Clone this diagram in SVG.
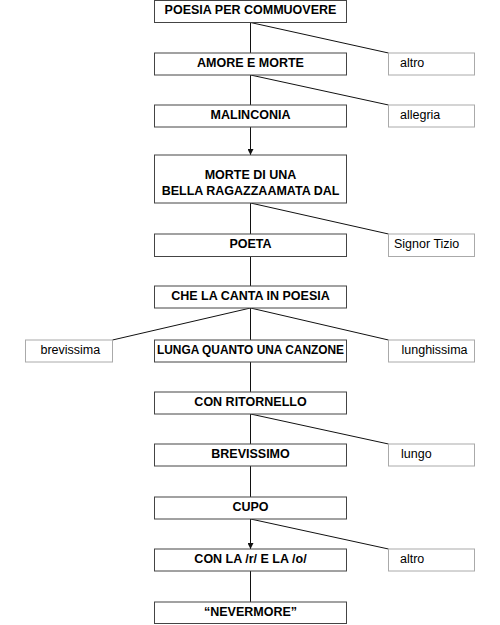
<svg xmlns="http://www.w3.org/2000/svg" width="500" height="625" viewBox="0 0 500 625">
<style>
.m{fill:#fff;stroke:#444;stroke-width:1}
.s{fill:#fff;stroke:#aaa;stroke-width:1}
.mt{font-family:"Liberation Sans",Arial,sans-serif;font-weight:bold;font-size:12.5px;fill:#000;text-anchor:middle}
.st{font-family:"Liberation Sans",Arial,sans-serif;font-size:12.5px;fill:#000}
.c{stroke:#111;stroke-width:1;fill:none}
</style>
<defs>
<marker id="ah" viewBox="0 0 6 6" refX="6" refY="3" markerWidth="6" markerHeight="6" markerUnits="userSpaceOnUse" orient="auto">
<path d="M0,0 L6,3 L0,6 Z" fill="#111"/>
</marker>
</defs>
<rect width="500" height="625" fill="#fff"/>
<g id="connectors">
<line class="c" x1="250.5" y1="22.5" x2="250.5" y2="53"/>
<line class="c" x1="250.5" y1="75" x2="250.5" y2="105"/>
<line class="c" x1="250.5" y1="127" x2="250.5" y2="155" marker-end="url(#ah)"/>
<line class="c" x1="250.5" y1="203" x2="250.5" y2="234"/>
<line class="c" x1="250.5" y1="256.5" x2="250.5" y2="286"/>
<line class="c" x1="250.5" y1="308" x2="250.5" y2="340"/>
<line class="c" x1="250.5" y1="362" x2="250.5" y2="392"/>
<line class="c" x1="250.5" y1="414" x2="250.5" y2="444"/>
<line class="c" x1="250.5" y1="466" x2="250.5" y2="497"/>
<line class="c" x1="250.5" y1="519" x2="250.5" y2="549" marker-end="url(#ah)"/>
<line class="c" x1="250.5" y1="571" x2="250.5" y2="602"/>
<line class="c" x1="250.5" y1="22.5" x2="388.5" y2="53"/>
<line class="c" x1="250.5" y1="75" x2="388.5" y2="105"/>
<line class="c" x1="250.5" y1="203" x2="388.5" y2="234"/>
<line class="c" x1="250.5" y1="308" x2="112.5" y2="340"/>
<line class="c" x1="250.5" y1="308" x2="388.5" y2="340"/>
<line class="c" x1="250.5" y1="414" x2="388.5" y2="444"/>
<line class="c" x1="250.5" y1="519" x2="388.5" y2="549"/>
</g>
<g id="n1"><rect class="m" x="154.5" y="0.5" width="192" height="22"/><text class="mt" x="250.5" y="14">POESIA PER COMMUOVERE</text></g>
<g id="n1b"><rect class="s" x="388.5" y="53" width="86" height="22"/><text class="st" x="400" y="67">altro</text></g>
<g id="n2"><rect class="m" x="154.5" y="53" width="192" height="22"/><text class="mt" x="250.5" y="67">AMORE E MORTE</text></g>
<g id="n2b"><rect class="s" x="388.5" y="105" width="86" height="22"/><text class="st" x="400" y="119">allegria</text></g>
<g id="n3"><rect class="m" x="154.5" y="105" width="192" height="22"/><text class="mt" x="250.5" y="119">MALINCONIA</text></g>
<g id="n4"><rect class="m" x="154.5" y="155" width="192" height="48"/><text class="mt" x="250.5" y="178.5">MORTE DI UNA</text><text class="mt" x="250.5" y="194.5">BELLA RAGAZZAAMATA DAL</text></g>
<g id="n4b"><rect class="s" x="388.5" y="234" width="86" height="22.5"/><text class="st" x="394" y="248">Signor Tizio</text></g>
<g id="n5"><rect class="m" x="154.5" y="234" width="192" height="22.5"/><text class="mt" x="250.5" y="248">POETA</text></g>
<g id="n6"><rect class="m" x="154.5" y="286" width="192" height="22"/><text class="mt" x="250.5" y="300">CHE LA CANTA IN POESIA</text></g>
<g id="n6a"><rect class="s" x="25.5" y="340" width="87" height="22"/><text class="st" x="40.5" y="354">brevissima</text></g>
<g id="n7"><rect class="m" x="154.5" y="340" width="192" height="22"/><text class="mt" x="250.5" y="354" textLength="187" lengthAdjust="spacingAndGlyphs">LUNGA QUANTO UNA CANZONE</text></g>
<g id="n6b"><rect class="s" x="388.5" y="340" width="86" height="22"/><text class="st" x="401.5" y="354">lunghissima</text></g>
<g id="n8"><rect class="m" x="154.5" y="392" width="192" height="22"/><text class="mt" x="250.5" y="406">CON RITORNELLO</text></g>
<g id="n8b"><rect class="s" x="388.5" y="444" width="86" height="22"/><text class="st" x="401" y="458">lungo</text></g>
<g id="n9"><rect class="m" x="154.5" y="444" width="192" height="22"/><text class="mt" x="250.5" y="458">BREVISSIMO</text></g>
<g id="n10"><rect class="m" x="154.5" y="497" width="192" height="22"/><text class="mt" x="250.5" y="511">CUPO</text></g>
<g id="n10b"><rect class="s" x="388.5" y="549" width="86" height="22"/><text class="st" x="400" y="563">altro</text></g>
<g id="n11"><rect class="m" x="154.5" y="549" width="192" height="22"/><text class="mt" x="250.5" y="563">CON LA /r/ E LA /o/</text></g>
<g id="n12"><rect class="m" x="154.5" y="602" width="192" height="21.5"/><text class="mt" x="250.5" y="616">“NEVERMORE”</text></g>
</svg>
